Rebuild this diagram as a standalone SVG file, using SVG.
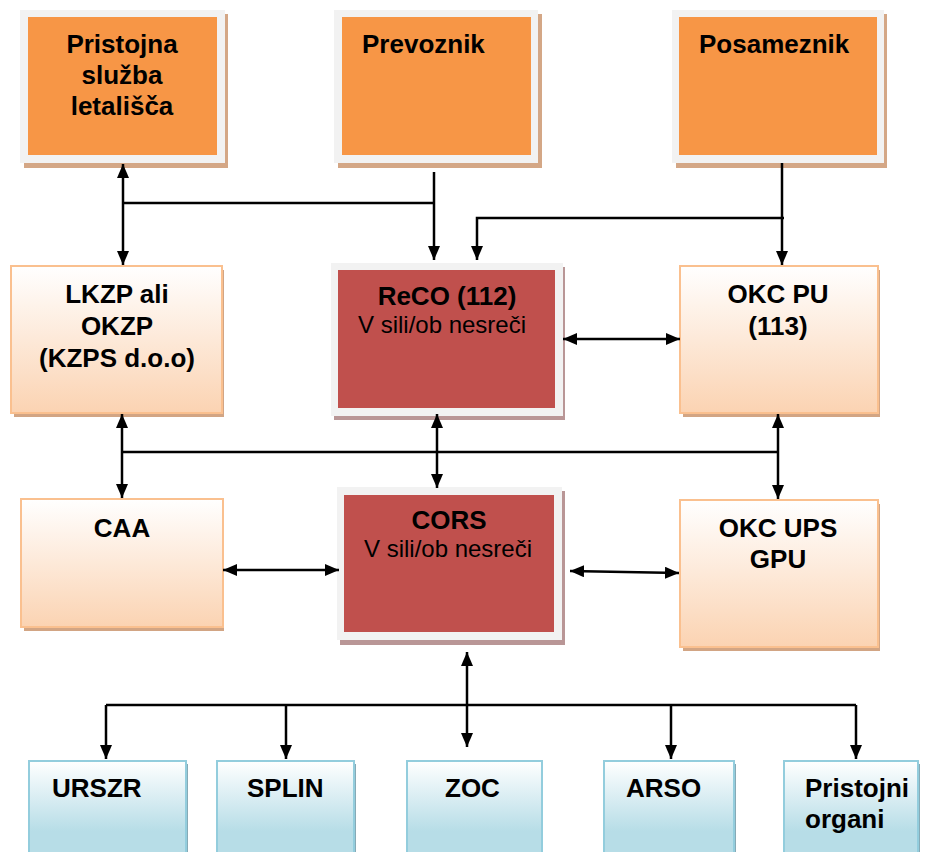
<svg xmlns="http://www.w3.org/2000/svg" width="929" height="852" viewBox="0 0 929 852">
<defs>
<linearGradient id="gPeach" x1="0" y1="0" x2="0" y2="1"><stop offset="0" stop-color="#ffffff"/><stop offset="1" stop-color="#fbd3b2"/></linearGradient>
<linearGradient id="gBlue" x1="0" y1="0" x2="0" y2="1"><stop offset="0" stop-color="#ffffff"/><stop offset="0.7" stop-color="#b7dde7"/><stop offset="1" stop-color="#b7dde7"/></linearGradient>
<marker id="ah" viewBox="0 0 14 12" refX="14" refY="6" markerWidth="14" markerHeight="12" markerUnits="userSpaceOnUse" orient="auto-start-reverse"><path d="M0,0 L14,6 L0,12 z" fill="#000"/></marker>
<style>
.t{font-family:"Liberation Sans",Arial,sans-serif;font-size:26px;font-weight:bold;fill:#000}
.r{font-family:"Liberation Sans",Arial,sans-serif;font-size:24px;fill:#000}
.frame{fill:#f2f2f2}
.shTan{fill:#d4a786}
.shRed{fill:#b99696}
.org{fill:#f79646}
.red{fill:#c0504d}
.peach{fill:url(#gPeach);stroke:#fac08f;stroke-width:2}
.shPeach{fill:#d2a584}
.blue{fill:url(#gBlue);stroke:#93cddd;stroke-width:2}
.shBlue{fill:#86aab6}
.ln{fill:none;stroke:#000;stroke-width:2.5}
.both{marker-start:url(#ah);marker-end:url(#ah)}
.end{marker-end:url(#ah)}
</style>
</defs>
<rect width="929" height="852" fill="#fff"/>

<g id="pristojna-sluzba">
<rect class="shTan" x="24" y="14" width="204" height="154"/>
<rect class="frame" x="20" y="10" width="205" height="153"/>
<rect class="org" x="28" y="17" width="189" height="138"/>
<text class="t" x="122" y="53" text-anchor="middle">Pristojna</text>
<text class="t" x="122" y="84" text-anchor="middle">služba</text>
<text class="t" x="122" y="115" text-anchor="middle">letališča</text>
</g>

<g id="prevoznik">
<rect class="shTan" x="338" y="14" width="204" height="154"/>
<rect class="frame" x="334" y="10" width="204" height="153"/>
<rect class="org" x="342" y="17" width="189" height="138"/>
<text class="t" x="362" y="53">Prevoznik</text>
</g>

<g id="posameznik">
<rect class="shTan" x="676" y="14" width="211" height="154"/>
<rect class="frame" x="672" y="10" width="212" height="153"/>
<rect class="org" x="679" y="17" width="198" height="138"/>
<text class="t" x="699" y="53">Posameznik</text>
</g>

<g id="lkzp">
<rect class="shPeach" x="14" y="270" width="210" height="147"/>
<rect class="peach" x="11" y="266" width="211" height="147"/>
<text class="t" x="117" y="303" text-anchor="middle">LKZP ali</text>
<text class="t" x="117" y="335" text-anchor="middle">OKZP</text>
<text class="t" x="117" y="367" text-anchor="middle">(KZPS d.o.o)</text>
</g>

<g id="reco">
<rect class="shRed" x="334" y="267" width="231" height="153"/>
<rect class="frame" x="331" y="263" width="232" height="153"/>
<rect class="red" x="338" y="270" width="217" height="138"/>
<text class="t" x="447" y="305" text-anchor="middle">ReCO (112)</text>
<text class="r" x="442" y="333" text-anchor="middle">V sili/ob nesreči</text>
</g>

<g id="okc-pu">
<rect class="shPeach" x="683" y="270" width="197" height="147"/>
<rect class="peach" x="680" y="266" width="198" height="147"/>
<text class="t" x="778" y="303" text-anchor="middle">OKC PU</text>
<text class="t" x="778" y="335" text-anchor="middle">(113)</text>
</g>

<g id="caa">
<rect class="shPeach" x="24" y="503" width="200" height="128"/>
<rect class="peach" x="21" y="499" width="202" height="128"/>
<text class="t" x="122" y="537" text-anchor="middle">CAA</text>
</g>

<g id="cors">
<rect class="shRed" x="340" y="491" width="225" height="154"/>
<rect class="frame" x="337" y="487" width="225" height="153"/>
<rect class="red" x="344" y="495" width="210" height="137"/>
<text class="t" x="449" y="529" text-anchor="middle">CORS</text>
<text class="r" x="448" y="557" text-anchor="middle">V sili/ob nesreči</text>
</g>

<g id="okc-ups">
<rect class="shPeach" x="683" y="504" width="197" height="147"/>
<rect class="peach" x="680" y="500" width="198" height="147"/>
<text class="t" x="778" y="537" text-anchor="middle">OKC UPS</text>
<text class="t" x="778" y="568" text-anchor="middle">GPU</text>
</g>

<g id="urszr">
<rect class="shBlue" x="32" y="764" width="156" height="100"/>
<rect class="blue" x="29" y="761" width="157" height="100"/>
<text class="t" x="52" y="797">URSZR</text>
</g>

<g id="splin">
<rect class="shBlue" x="220" y="764" width="136" height="100"/>
<rect class="blue" x="217" y="761" width="137" height="100"/>
<text class="t" x="247" y="797">SPLIN</text>
</g>

<g id="zoc">
<rect class="shBlue" x="410" y="764" width="133" height="100"/>
<rect class="blue" x="407" y="761" width="135" height="100"/>
<text class="t" x="445" y="797">ZOC</text>
</g>

<g id="arso">
<rect class="shBlue" x="607" y="764" width="129" height="100"/>
<rect class="blue" x="604" y="761" width="130" height="100"/>
<text class="t" x="626" y="797">ARSO</text>
</g>

<g id="pristojni-organi">
<rect class="shBlue" x="787" y="764" width="133" height="100"/>
<rect class="blue" x="784" y="761" width="134" height="100"/>
<text class="t" x="805" y="797">Pristojni</text>
<text class="t" x="805" y="828">organi</text>
</g>

<g id="connectors">
<path class="ln both" d="M123,164 V265"/>
<path class="ln" d="M122,203 H434"/>
<path class="ln end" d="M434,172 V260"/>
<path class="ln end" d="M782,163 V265"/>
<path class="ln end" d="M784,218 H477 V260"/>
<path class="ln both" d="M563,339 H680"/>
<path class="ln both" d="M437,414 V488"/>
<path class="ln" d="M122,452 H778"/>
<path class="ln both" d="M122,414 V498"/>
<path class="ln both" d="M778,414 V499"/>
<path class="ln both" d="M223,570 H339"/>
<path class="ln both" d="M570,571 L679,573"/>
<path class="ln both" d="M467,652 V747"/>
<path class="ln" d="M106,705 H856"/>
<path class="ln end" d="M106,705 V759"/>
<path class="ln end" d="M286,705 V759"/>
<path class="ln end" d="M671,705 V759"/>
<path class="ln end" d="M856,705 V759"/>
</g>
</svg>
